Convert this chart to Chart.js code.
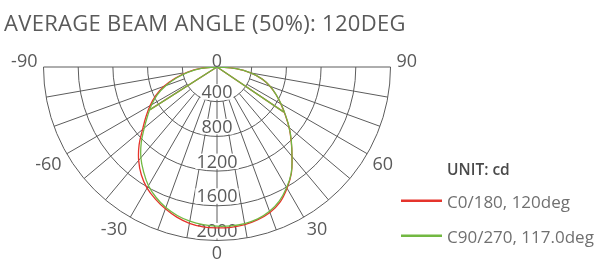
<!DOCTYPE html>
<html>
<head>
<meta charset="utf-8">
<script src="https://cdn.jsdelivr.net/npm/chart.js@4.4.0/dist/chart.umd.min.js"></script>
<style>
  html, body { margin: 0; padding: 0; background: #fff; overflow: hidden; }
  canvas { display: block; }
</style>
</head>
<body>
<canvas id="polar" width="599" height="259"></canvas>
<script>
const titleText = 'AVERAGE BEAM ANGLE (50%): 120DEG';
const unitText = 'UNIT: cd';
const seriesNames = ['C0/180, 120deg', 'C90/270, 117.0deg'];
const seriesColors = ['#e5342c', '#72b842'];

const ringValues = [400, 800, 1200, 1600, 2000];
const spokeAngles = [-80, -70, -60, -50, -40, -30, -20, -10, 0, 10, 20, 30, 40, 50, 60, 70, 80];
const angleTicks = [-90, -60, -30, 0, 30, 60, 90];

// intensity curves, gamma -90..90 in 5 deg steps
const gamma = [-90, -85, -80, -75, -70, -65, -60, -55, -50, -45, -40, -35, -30, -25, -20, -15, -10, -5,
  0, 5, 10, 15, 20, 25, 30, 35, 40, 45, 50, 55, 60, 65, 70, 75, 80, 85, 90];
const c0cd = [0, 190, 350, 500, 650, 780, 890, 1000, 1120, 1270, 1405, 1520, 1612, 1680, 1740, 1792, 1830, 1850,
  1855, 1855, 1845, 1822, 1785, 1720, 1615, 1495, 1345, 1210, 1085, 960, 850, 750, 650, 540, 400, 220, 0];
const c90cd = [0, 180, 335, 480, 625, 760, 870, 975, 1095, 1235, 1365, 1475, 1580, 1660, 1725, 1772, 1805, 1825,
  1835, 1838, 1832, 1812, 1770, 1703, 1605, 1492, 1345, 1212, 1087, 962, 853, 752, 652, 543, 402, 222, 0];

// straight strokes from the centre out to the curve on each side
const chordGamma = [-57.5, 0, 56];
const c0Chord = [915, 0, 930];
const c90Chord = [930, 0, 925];

function toXY(angles, values) {
  return values.map((v, i) => {
    const a = angles[i] * Math.PI / 180;
    return { x: v * Math.sin(a), y: -v * Math.cos(a) };
  });
}

const FONT = '"Open Sans", sans-serif';

const polarGrid = {
  id: 'polarGrid',
  beforeDatasetsDraw(chart) {
    const ctx = chart.ctx;
    const xs = chart.scales.x, ys = chart.scales.y;
    const cx = xs.getPixelForValue(0), cy = ys.getPixelForValue(0);
    const rad = v => xs.getPixelForValue(v) - cx;
    const R = rad(ringValues[ringValues.length - 1]);
    const r0 = rad(ringValues[0]);
    ctx.save();
    ctx.strokeStyle = '#5c5c5c';
    ctx.lineWidth = 1;
    ringValues.forEach(v => {
      ctx.beginPath();
      ctx.arc(cx, cy, rad(v), 0, Math.PI);
      ctx.stroke();
    });
    ctx.beginPath();
    ctx.moveTo(cx - R, cy);
    ctx.lineTo(cx + R, cy);
    ctx.stroke();
    spokeAngles.forEach(t => {
      const a = t * Math.PI / 180;
      const start = t === 0 ? 0 : r0;
      ctx.beginPath();
      ctx.moveTo(cx + start * Math.sin(a), cy + start * Math.cos(a));
      ctx.lineTo(cx + R * Math.sin(a), cy + R * Math.cos(a));
      ctx.stroke();
    });

    // candela labels on the 0 axis
    ctx.font = '18px ' + FONT;
    ctx.textAlign = 'center';
    ctx.textBaseline = 'alphabetic';
    ringValues.forEach(v => {
      const y = cy + rad(v) - 3.5;
      const w = ctx.measureText(String(v)).width;
      ctx.fillStyle = '#fff';
      ctx.fillRect(cx - w / 2 - 1, y - 14, w + 2, 15.5);
      ctx.fillStyle = '#5a5a5a';
      ctx.fillText(String(v), cx, y);
    });

    // angle labels round the outside
    const d = R + 6;
    angleTicks.forEach(t => {
      const a = t * Math.PI / 180;
      const px = cx + d * Math.sin(a), py = cy + d * Math.cos(a);
      ctx.textAlign = t > 0 ? 'left' : (t < 0 ? 'right' : 'center');
      const base = Math.abs(t) === 90 ? py : py + 12.8;
      ctx.fillText(String(t), px, base);
    });
    ctx.textAlign = 'center';
    ctx.fillText('0', cx, cy);
    ctx.restore();
  },
  afterDraw(chart) {
    const ctx = chart.ctx;
    ctx.save();
    ctx.textAlign = 'left';
    ctx.textBaseline = 'alphabetic';
    ctx.fillStyle = '#5a5a5a';
    ctx.font = '22px ' + FONT;
    ctx.letterSpacing = '0.3px';
    ctx.fillText(titleText, 4, 30.5);
    ctx.letterSpacing = '0px';

    ctx.fillStyle = '#4a4a4a';
    ctx.font = '600 15.5px ' + FONT;
    ctx.fillText(unitText, 447, 174.5);

    ctx.font = '17px ' + FONT;
    seriesNames.forEach((name, i) => {
      const y = 200.7 + i * 35;
      ctx.strokeStyle = seriesColors[i];
      ctx.lineWidth = 2.5;
      ctx.beginPath();
      ctx.moveTo(401, y);
      ctx.lineTo(442, y);
      ctx.stroke();
      ctx.fillStyle = '#707070';
      ctx.fillText(name, 447, y + 7.5);
    });
    ctx.restore();
  }
};

const line = { showLine: true, pointRadius: 0, borderWidth: 1.3, fill: false };

// green is drawn over red, as in the source
new Chart(document.getElementById('polar'), {
  type: 'scatter',
  data: {
    datasets: [
      Object.assign({ label: seriesNames[0], data: toXY(gamma, c0cd), borderColor: seriesColors[0], tension: 0.4, order: 2 }, line),
      Object.assign({ label: seriesNames[0], data: toXY(chordGamma, c0Chord), borderColor: seriesColors[0], tension: 0, order: 2 }, line),
      Object.assign({ label: seriesNames[1], data: toXY(gamma, c90cd), borderColor: seriesColors[1], tension: 0.4, order: 1 }, line),
      Object.assign({ label: seriesNames[1], data: toXY(chordGamma, c90Chord), borderColor: seriesColors[1], tension: 0, order: 1 }, line)
    ]
  },
  options: {
    responsive: false,
    animation: false,
    events: [],
    layout: { padding: { left: 43.5, right: 208.5, top: 67, bottom: 18.5 } },
    plugins: { legend: { display: false }, title: { display: false }, tooltip: { enabled: false } },
    scales: {
      x: { type: 'linear', min: -2000, max: 2000, display: false },
      y: { type: 'linear', min: -2000, max: 0, display: false }
    }
  },
  plugins: [polarGrid]
});
</script>
</body>
</html>
